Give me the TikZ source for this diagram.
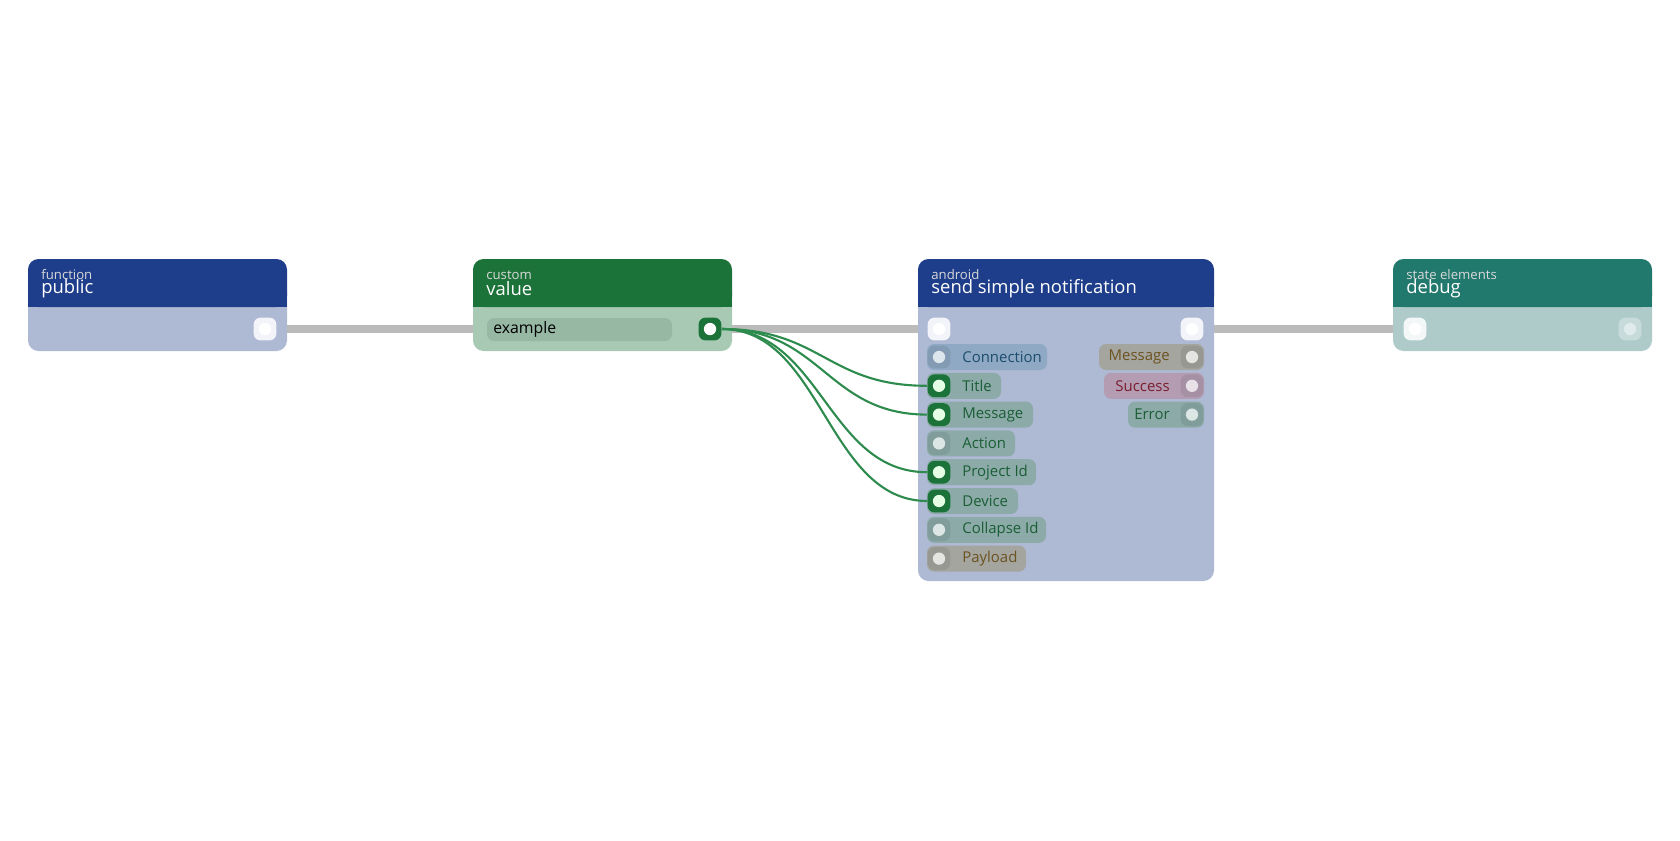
\documentclass[tikz,border=0pt]{standalone}
\usepackage{fontspec}
\setmainfont{Open Sans}
\usetikzlibrary{positioning}
\definecolor{hdblue}{HTML}{1E3D8A}
\definecolor{bdblue}{HTML}{AEB9D4}
\definecolor{hdgreen}{HTML}{1C7339}
\definecolor{bdgreen}{HTML}{A8CAB4}
\definecolor{hdteal}{HTML}{21786D}
\definecolor{bdteal}{HTML}{AECBCA}
\definecolor{wire}{HTML}{BBBBBB}
\definecolor{gwire}{HTML}{2E8B4E}
\definecolor{pblue}{HTML}{8FA9C4}
\definecolor{tblue}{HTML}{1E4D6E}
\definecolor{pgreen}{HTML}{8BAAA8}
\definecolor{tgreen}{HTML}{1B5E35}
\definecolor{pbrown}{HTML}{A5A59F}
\definecolor{tbrown}{HTML}{6B5220}
\definecolor{pred}{HTML}{B49DB2}
\definecolor{tred}{HTML}{7A1D2E}
\definecolor{field}{HTML}{97B8A3}
\tikzset{
  hd/.style={fill=#1, rounded corners=6},
  bd/.style={fill=#1, rounded corners=6},
  cat/.style={anchor=west, text=white!85!black, font=\fontsize{7.5}{7.5}\selectfont, inner sep=0},
  ttl/.style={anchor=west, text=white, font=\fontsize{10.5}{10.5}\selectfont, inner sep=0},
  pill/.style={fill=#1, rounded corners=4},
  lbl/.style={font=\fontsize{8.5}{8.5}\selectfont, inner sep=0},
  port/.style={fill=#1, rounded corners=4, minimum size=13pt, inner sep=0},
  dot/.style={circle, fill=#1, minimum size=7pt, inner sep=0},
}
\begin{document}
\begin{tikzpicture}[x=0.02cm,y=-0.02cm]
\useasboundingbox (0,0) rectangle (1680,840);

% wires
\draw[wire, line width=4pt] (265,329) -- (473,329);
\draw[wire, line width=4pt] (710,329) -- (939,329);
\draw[wire, line width=4pt] (1192,329) -- (1415,329);

% public
\fill[bd=bdblue] (28,280) rectangle (287,351);
\fill[hd=hdblue] (28,259) rectangle (287,307);
\fill[hdblue] (28,295) rectangle (287,307);
\node[cat] at (41,275) {function};
\node[ttl] at (41,289) {public};
\node[port=white!85!bdblue] (pubout) at (265,329) {};
\node[dot=white] at (pubout) {};

% value
\fill[bd=bdgreen] (473,280) rectangle (732,351);
\fill[hd=hdgreen] (473,259) rectangle (732,307);
\fill[hdgreen] (473,295) rectangle (732,307);
\node[cat] at (486,275) {custom};
\node[ttl] at (486,289) {value};
\fill[pill=field] (487,318) rectangle (672,341);
\node[lbl, anchor=west, font=\fontsize{9}{9}\selectfont] (example) at (493,329) {example};
\node[port=hdgreen] (valout) at (710,329) {};
\node[dot=white] at (valout) {};

% android
\fill[bd=bdblue] (918,280) rectangle (1214,581);
\fill[hd=hdblue] (918,259) rectangle (1214,307);
\fill[hdblue] (918,295) rectangle (1214,307);
\node[cat] at (931,275) {android};
\node[ttl] at (931,289) {send simple notification};
\node[port=white!85!bdblue] (andin) at (939,329) {};
\node[dot=white] at (andin) {};
\node[port=white!85!bdblue] (andout) at (1192,329) {};
\node[dot=white] at (andout) {};
\foreach \name/\txt/\w/\pc/\tc/\on [count=\i from 0] in
  {conn/Connection/1047/pblue/tblue/0,
   title/Title/1001/pgreen/tgreen/1,
   msg/Message/1033/pgreen/tgreen/1,
   act/Action/1015/pgreen/tgreen/0,
   proj/Project Id/1036/pgreen/tgreen/1,
   dev/Device/1018/pgreen/tgreen/1,
   coll/Collapse Id/1046/pgreen/tgreen/0,
   pay/Payload/1026/pbrown/tbrown/0}{
  \pgfmathsetmacro\yy{357+28.8*\i}
  \fill[pill=\pc] (927,\yy-13) rectangle (\w,\yy+13);
  \node[lbl, anchor=west, text=\tc] at (962,\yy) {\txt};
  \ifnum\on=1
    \node[port=hdgreen] (\name) at (939,\yy) {};
    \node[dot=white!90!green] at (\name) {};
  \else
    \node[port=black!8!\pc] (\name) at (939,\yy) {};
    \node[dot=white!70!\pc] at (\name) {};
  \fi
}
\foreach \name/\txt/\w/\pc/\tc [count=\i from 0] in
  {omsg/Message/1099/pbrown/tbrown,
   osucc/Success/1104/pred/tred,
   oerr/Error/1128/pgreen/tgreen}{
  \pgfmathsetmacro\yy{357+28.8*\i}
  \fill[pill=\pc] (\w,\yy-13) rectangle (1204,\yy+13);
  \node[lbl, anchor=east, text=\tc] at (1170,\yy) {\txt};
  \node[port=black!8!\pc] (\name) at (1192,\yy) {};
  \node[dot=white!70!\pc] at (\name) {};
}

% debug
\fill[bd=bdteal] (1393,280) rectangle (1652,351);
\fill[hd=hdteal] (1393,259) rectangle (1652,307);
\fill[hdteal] (1393,295) rectangle (1652,307);
\node[cat] at (1406,275) {state elements};
\node[ttl] at (1406,289) {debug};
\node[port=white!85!bdteal] (dbgin) at (1415,329) {};
\node[dot=white] at (dbgin) {};
\node[port=white!30!bdteal] (dbgout) at (1630,329) {};
\node[dot=white!60!bdteal] at (dbgout) {};

\foreach \t in {title,msg,proj,dev}
  \draw[gwire, line width=1.2pt] (valout.east) .. controls +(100,0) and +(-100,0) .. (\t.west);
\end{tikzpicture}
\end{document}
